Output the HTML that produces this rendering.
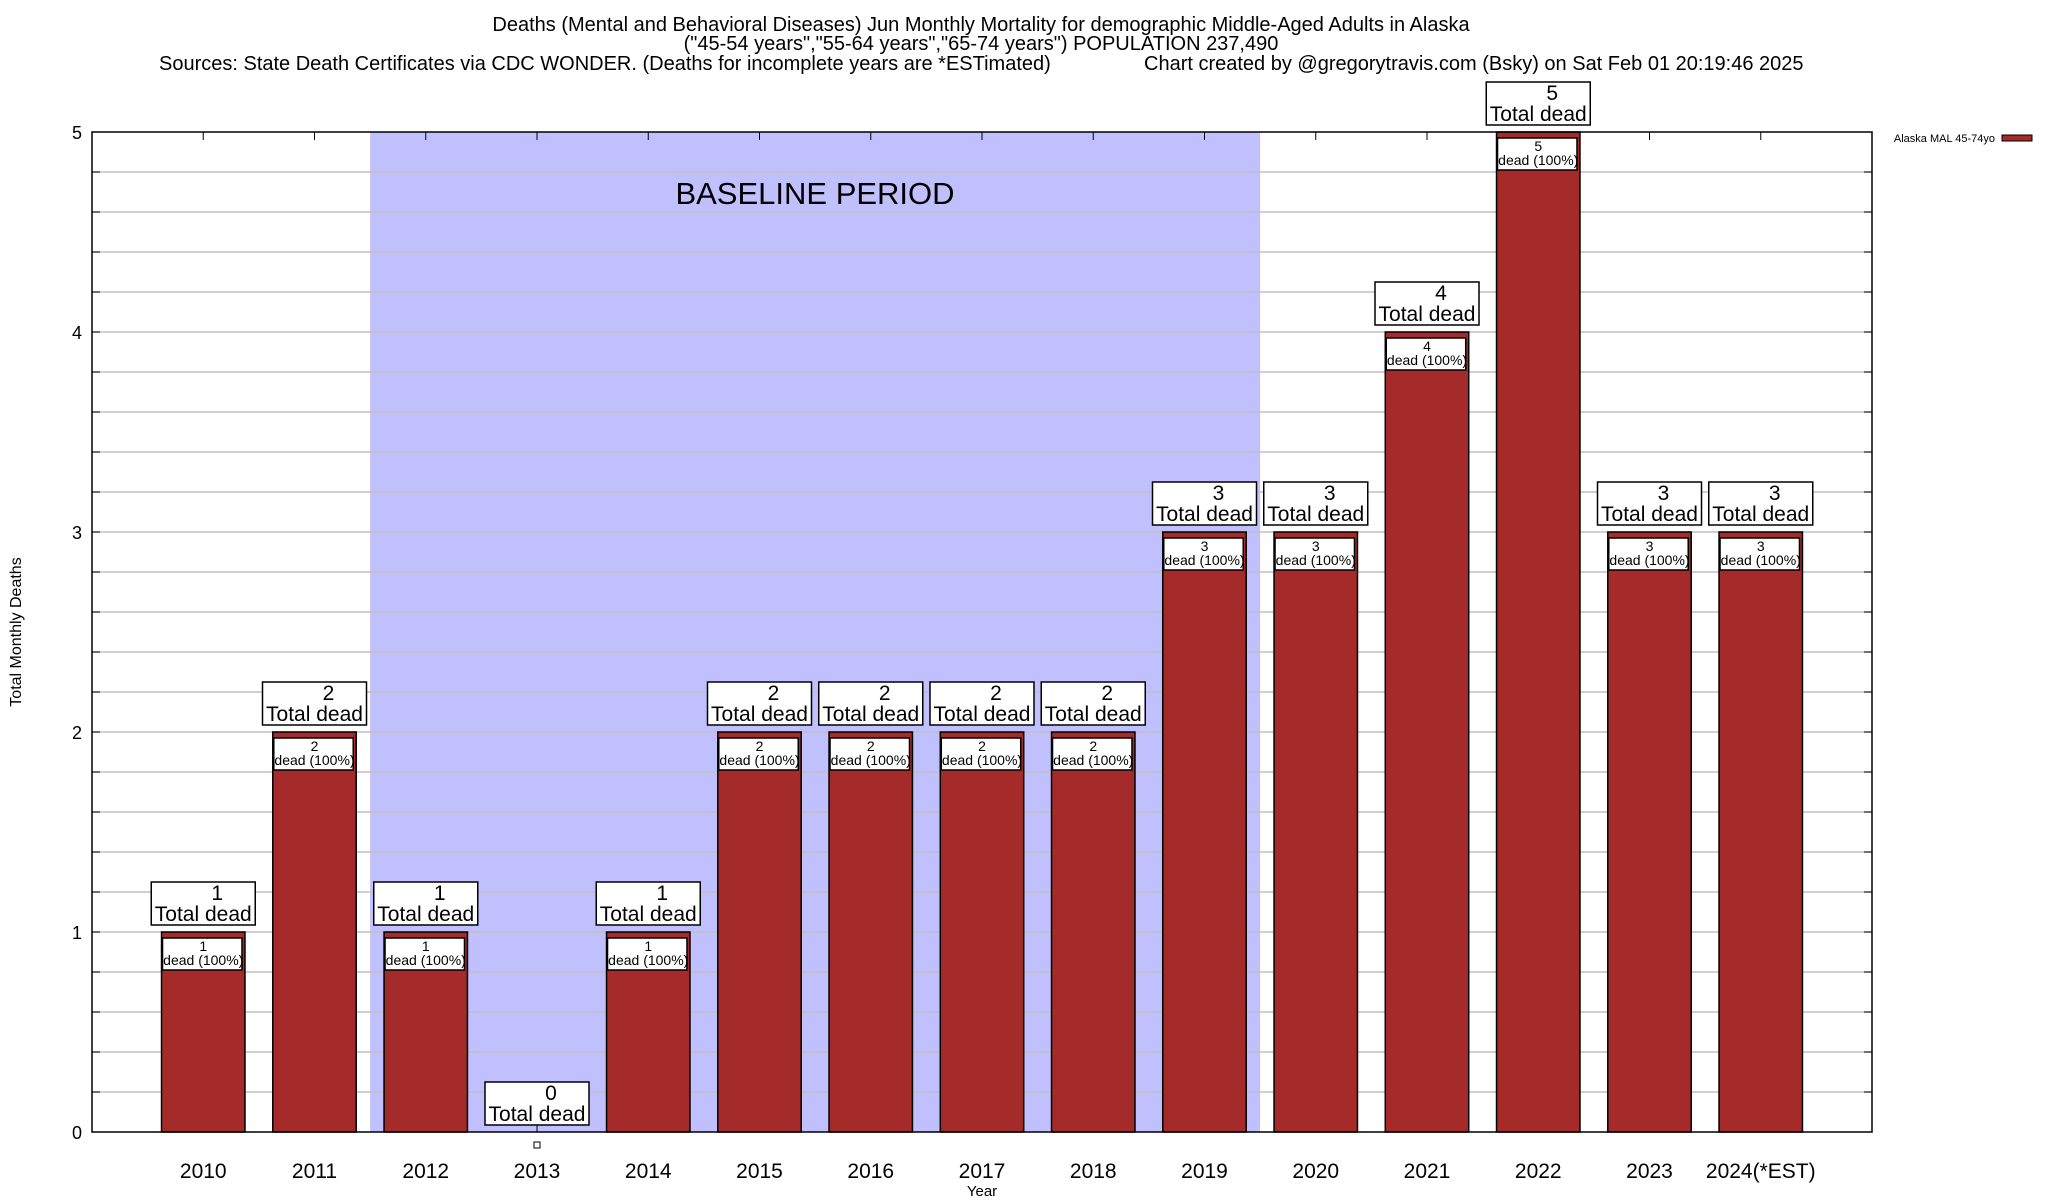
<!DOCTYPE html>
<html><head><meta charset="utf-8"><style>
html,body{margin:0;padding:0;background:#fff;}
svg{display:block;font-family:"Liberation Sans",Arial,sans-serif;}
</style></head><body>
<svg id="chart" width="2048" height="1200" viewBox="0 0 2048 1200" xmlns="http://www.w3.org/2000/svg">
<g font-size="20" fill="#000">
<text x="981" y="31" text-anchor="middle">Deaths (Mental and Behavioral Diseases) Jun Monthly Mortality for demographic Middle-Aged Adults in Alaska</text>
<text x="981" y="50" text-anchor="middle">("45-54 years","55-64 years","65-74 years") POPULATION 237,490</text>
<text x="159" y="70">Sources: State Death Certificates via CDC WONDER. (Deaths for incomplete years are *ESTimated)</text>
<text x="1144" y="70">Chart created by @gregorytravis.com (Bsky) on Sat Feb 01 20:19:46 2025</text>
</g>
<g id="plot"></g>
</svg>
<script>
const categories = ["2010","2011","2012","2013","2014","2015","2016","2017","2018","2019","2020","2021","2022","2023","2024(*EST)"];
const deaths = [1,2,1,0,1,2,2,2,2,3,3,4,5,3,3];
const yTicks = [0,1,2,3,4,5];
const baselineStart = 1.5, baselineEnd = 9.5;

const NS = "http://www.w3.org/2000/svg";
const L = 92, R = 1872, T = 132, B = 1132;
const xMin = -1, xMax = 15, yMin = 0, yMax = 5;
function xs(v){ return L + (v - xMin) / (xMax - xMin) * (R - L); }
function ys(v){ return B - (v - yMin) / (yMax - yMin) * (B - T); }
const plot = document.getElementById('plot');
function mk(tag, attrs, parent, text){
  const e = document.createElementNS(NS, tag);
  for (const k in attrs) e.setAttribute(k, attrs[k]);
  if (text !== undefined) e.textContent = text;
  (parent || plot).appendChild(e);
  return e;
}
const shade = mk('rect', {x: xs(baselineStart), y: T, width: xs(baselineEnd) - xs(baselineStart), height: B - T, fill: '#c0c0ff'});


for (let i = 1; i < 25; i++) {
  const v = i * 0.2;
  const g = mk('line', {x1: L, x2: R, y1: ys(v), y2: ys(v), stroke: '#c0c0c0', 'stroke-width': 1.5});
  
  
  mk('line', {x1: L, x2: L + 8, y1: ys(v), y2: ys(v), stroke: '#000', 'stroke-width': 1});
  mk('line', {x1: R - 8, x2: R, y1: ys(v), y2: ys(v), stroke: '#000', 'stroke-width': 1});
}
const bl = mk('text', {x: 815, y: 204, 'font-size': 31, 'text-anchor': 'middle'}, plot, 'BASELINE PERIOD');


yTicks.forEach(v => {
  const t = mk('text', {x: 82, y: ys(v) + 7, 'font-size': 18, 'text-anchor': 'end'}, plot, String(v));
  
  
});
categories.forEach((c, i) => {
  mk('line', {x1: xs(i), x2: xs(i), y1: T, y2: T + 8, stroke: '#000', 'stroke-width': 1});
});
const bw = 0.75 * (xs(1) - xs(0));
deaths.forEach((d, i) => {
  const cx = xs(i), top = ys(d);
  if (d > 0) {
    const bar = mk('rect', {x: cx - bw / 2, y: top, width: bw, height: B - top, fill: '#a52a2a', stroke: '#000', 'stroke-width': 1.5});
    
    
    const ib = mk('rect', {x: cx - bw / 2 + 1, y: top + 6, width: bw - 4, height: 32, fill: '#fff', stroke: '#000', 'stroke-width': 1.5});
    
    
    mk('text', {x: cx, y: top + 19, 'font-size': 14, 'text-anchor': 'middle'}, plot, String(d));
    mk('text', {x: cx, y: top + 33, 'font-size': 14, 'text-anchor': 'middle'}, plot, 'dead (100%)');
  } else {
    mk('line', {x1: cx, x2: cx, y1: top - 7, y2: B, stroke: '#000', 'stroke-width': 1});
    const sq = mk('rect', {x: cx - 3, y: B + 10, width: 6, height: 6, fill: '#fff', stroke: '#000', 'stroke-width': 1});
    
    
  }
  const by = top - 7 - 43;
  const tb = mk('rect', {x: cx - 52, y: by, width: 104, height: 43, fill: '#fff', stroke: '#000', 'stroke-width': 1.5});
  
  
  mk('text', {x: cx + 14, y: by + 18, 'font-size': 21, 'text-anchor': 'middle'}, plot, String(d));
  mk('text', {x: cx, y: by + 39, 'font-size': 21, 'text-anchor': 'middle'}, plot, 'Total dead');
  const xl = mk('text', {x: cx, y: 1178, 'font-size': 21, 'text-anchor': 'middle'}, plot, categories[i]);
  
  
});
const fr = mk('rect', {x: L, y: T, width: R - L, height: B - T, fill: 'none', stroke: '#000', 'stroke-width': 1.5});


const xt = mk('text', {x: 982, y: 1196, 'font-size': 15, 'text-anchor': 'middle'}, plot, 'Year');


const yt = mk('text', {x: 0, y: 0, 'font-size': 16, 'text-anchor': 'middle', transform: 'translate(21,632) rotate(-90)'}, plot, 'Total Monthly Deaths');


const lg = mk('text', {x: 1995, y: 142, 'font-size': 11, 'text-anchor': 'end'}, plot, 'Alaska MAL 45-74yo');


const sw = mk('rect', {x: 2002, y: 135, width: 30, height: 6, fill: '#a52a2a', stroke: '#000', 'stroke-width': 1});


</script>
</body></html>
